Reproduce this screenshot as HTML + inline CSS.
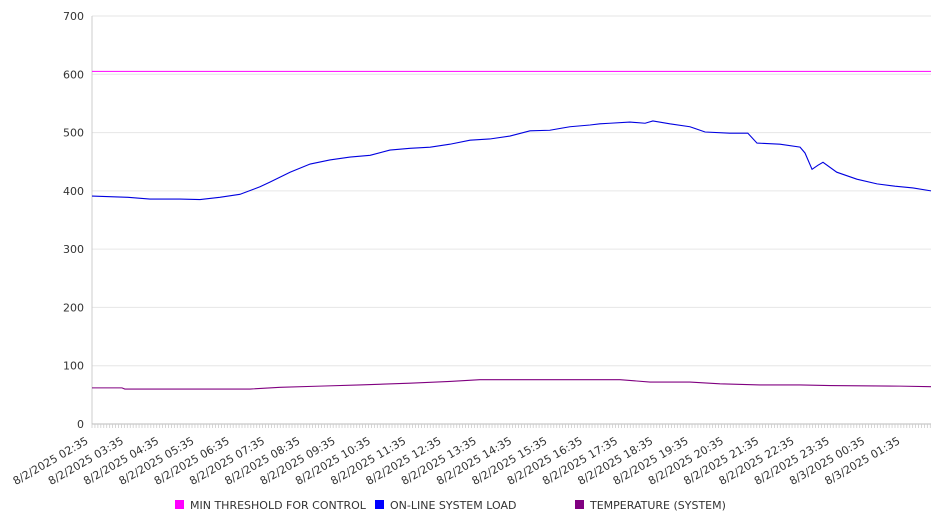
<!DOCTYPE html>
<html><head><meta charset="utf-8"><style>
body{margin:0;background:#fff;}
svg{display:block;font-family:"DejaVu Sans","Liberation Sans",sans-serif;}
</style></head><body>
<svg id="chart" width="946" height="526" viewBox="0 0 946 526">
<g id="grid"></g>
<g id="yaxis"></g>
<g id="xaxis"></g>
<g id="series"></g>
<g id="legend"></g>
</svg>
<script>
const yTicks = [0,100,200,300,400,500,600,700];
const xTickLabels = ["8/2/2025 02:35","8/2/2025 03:35","8/2/2025 04:35","8/2/2025 05:35","8/2/2025 06:35","8/2/2025 07:35","8/2/2025 08:35","8/2/2025 09:35","8/2/2025 10:35","8/2/2025 11:35","8/2/2025 12:35","8/2/2025 13:35","8/2/2025 14:35","8/2/2025 15:35","8/2/2025 16:35","8/2/2025 17:35","8/2/2025 18:35","8/2/2025 19:35","8/2/2025 20:35","8/2/2025 21:35","8/2/2025 22:35","8/2/2025 23:35","8/3/2025 00:35","8/3/2025 01:35"];
const thresholdHours = [0,23.77];
const thresholdValues = [605,605];
const loadHours = [0,1.02,1.64,2.49,3.06,3.62,4.19,4.76,5.04,5.61,6.18,6.74,7.31,7.88,8.44,9.01,9.58,10.14,10.71,11.27,11.84,12.41,12.97,13.54,14.11,14.39,14.67,15.24,15.67,15.89,16.37,16.94,17.37,18.07,18.58,18.84,19.49,20.06,20.2,20.4,20.57,20.71,21.1,21.67,22.24,22.75,23.26,23.77];
const loadValues = [391,389,386,386,385,389,394,407,415,432,446,453,458,461,470,473,475,480,487,489,494,503,504,510,513,515,516,518,516,520,515,510,501,499,499,482,480,475,465,437,444,449,432,420,412,408,405,400];
const tempHours = [0,0.85,0.93,4.48,5.33,6.46,7.59,9.01,10.14,10.99,14.96,15.81,16.94,17.79,18.92,20.06,20.91,22.89,23.77];
const tempValues = [62,62,60,60,63,65,67,70,73,76,76,72,72,69,67,67,66,65,64];

const NS="http://www.w3.org/2000/svg";
const X0=92,X1=931,Y0=424,Y1=16,SPAN=23.77;
const sx=h=>X0+(h/SPAN)*(X1-X0);
const sy=v=>Y0-(v/700)*(Y0-Y1);
function mk(tag,attrs,parent){const e=document.createElementNS(NS,tag);for(const k in attrs)e.setAttribute(k,attrs[k]);parent.appendChild(e);return e;}
const grid=document.getElementById('grid'),ya=document.getElementById('yaxis'),xa=document.getElementById('xaxis'),se=document.getElementById('series'),lg=document.getElementById('legend');
yTicks.forEach(v=>{
  if(v>0){const l=mk('line',{x1:X0,x2:X1,y1:sy(v),y2:sy(v),stroke:'#e6e6e6','stroke-width':1},grid);
  
  }
  const t=mk('text',{x:84,y:sy(v)+4,'text-anchor':'end','font-size':11,fill:'#333'},ya);
  
  
  t.textContent=v;
});
const ax=mk('line',{x1:X0,x2:X0,y1:Y1,y2:Y0,stroke:'#ccc'},ya);


const bx=mk('line',{x1:X0,x2:X1,y1:Y0,y2:Y0,stroke:'#bbb'},xa);


for(let m=0;m<=SPAN*12;m++){const x=sx(m/12);const tk=mk('line',{x1:x,x2:x,y1:Y0,y2:Y0+4,stroke:'#ccc','stroke-width':0.8},xa);

}
xTickLabels.forEach((s,i)=>{
  const x=sx(i)-3;
  const y=Y0+19;
  const t=mk('text',{x:x,y:y,'text-anchor':'end','font-size':11,fill:'#333',transform:`rotate(-30 ${x} ${y})`},xa);
  
  
  t.textContent=s;
});
function line(hs,vs,color,name){
  const p=mk('polyline',{points:hs.map((h,i)=>sx(h)+','+sy(vs[i])).join(' '),fill:'none',stroke:color,'stroke-width':1.1},se);
  
  
}
line(thresholdHours,thresholdValues,'#ff00ff','threshold-line');
line(loadHours,loadValues,'#0000e0','system-load-line');
line(tempHours,tempValues,'#800080','temperature-line');
[['MIN THRESHOLD FOR CONTROL','#ff00ff',175],['ON-LINE SYSTEM LOAD','#0000ff',375],['TEMPERATURE (SYSTEM)','#800080',575]].forEach(([n,c,x])=>{
  const g=mk('g',{},lg);
  
  
  mk('rect',{x:x,y:500,width:9,height:9,fill:c},g);
  const t=mk('text',{x:x+15,y:509,'font-size':11,fill:'#333'},g);
  t.textContent=n;
});
</script>
</body></html>
